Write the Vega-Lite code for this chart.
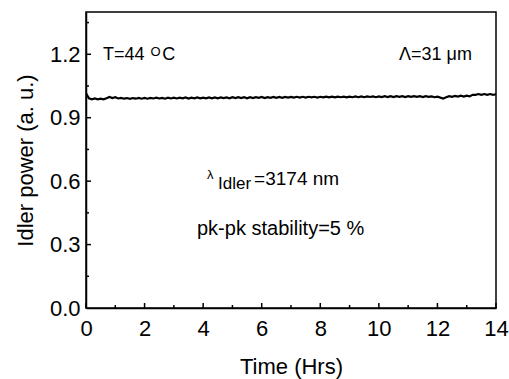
{
  "$schema": "https://vega.github.io/schema/vega-lite/v6.json",
  "width": 410,
  "height": 296,
  "autosize": {"type": "none"},
  "padding": {"left": 86, "top": 12, "right": 13, "bottom": 71},
  "background": "white",
  "config": {
    "font": "Liberation Sans",
    "view": {"stroke": "#000", "strokeWidth": 1.5},
    "axis": {
      "grid": false,
      "ticks": false,
      "domainColor": "#000",
      "domainWidth": 1.5,
      "labelColor": "#000",
      "titleColor": "#000",
      "labelFont": "Liberation Sans",
      "titleFont": "Liberation Sans",
      "labelFontSize": 22,
      "titleFontSize": 22,
      "titleFontWeight": "normal",
      "labelOverlap": false,
      "labelFlush": false
    }
  },
  "datasets": {
    "power": [
      {"t":0.0,"p":1.016},{"t":0.1,"p":0.992},{"t":0.2,"p":0.987},{"t":0.3,"p":0.991},{"t":0.4,"p":0.987},{"t":0.5,"p":0.990},{"t":0.6,"p":0.987},{"t":0.7,"p":0.992},{"t":0.8,"p":0.998},{"t":0.9,"p":0.993},
      {"t":1.0,"p":0.997},{"t":1.1,"p":0.991},{"t":1.2,"p":0.994},{"t":1.3,"p":0.990},{"t":1.4,"p":0.993},{"t":1.5,"p":0.989},{"t":1.6,"p":0.993},{"t":1.7,"p":0.990},{"t":1.8,"p":0.994},{"t":1.9,"p":0.990},
      {"t":2.0,"p":0.994},{"t":2.1,"p":0.990},{"t":2.2,"p":0.994},{"t":2.3,"p":0.991},{"t":2.4,"p":0.995},{"t":2.5,"p":0.991},{"t":2.6,"p":0.994},{"t":2.7,"p":0.990},{"t":2.8,"p":0.995},{"t":2.9,"p":0.991},
      {"t":3.0,"p":0.995},{"t":3.1,"p":0.991},{"t":3.2,"p":0.995},{"t":3.3,"p":0.992},{"t":3.4,"p":0.996},{"t":3.5,"p":0.991},{"t":3.6,"p":0.995},{"t":3.7,"p":0.992},{"t":3.8,"p":0.996},{"t":3.9,"p":0.992},
      {"t":4.0,"p":0.995},{"t":4.1,"p":0.992},{"t":4.2,"p":0.996},{"t":4.3,"p":0.992},{"t":4.4,"p":0.996},{"t":4.5,"p":0.992},{"t":4.6,"p":0.996},{"t":4.7,"p":0.993},{"t":4.8,"p":0.996},{"t":4.9,"p":0.992},
      {"t":5.0,"p":0.997},{"t":5.1,"p":0.993},{"t":5.2,"p":0.997},{"t":5.3,"p":0.993},{"t":5.4,"p":0.997},{"t":5.5,"p":0.992},{"t":5.6,"p":0.997},{"t":5.7,"p":0.993},{"t":5.8,"p":0.997},{"t":5.9,"p":0.994},
      {"t":6.0,"p":0.998},{"t":6.1,"p":0.993},{"t":6.2,"p":0.997},{"t":6.3,"p":0.994},{"t":6.4,"p":0.998},{"t":6.5,"p":0.994},{"t":6.6,"p":0.998},{"t":6.7,"p":0.994},{"t":6.8,"p":0.998},{"t":6.9,"p":0.995},
      {"t":7.0,"p":0.998},{"t":7.1,"p":0.995},{"t":7.2,"p":0.999},{"t":7.3,"p":0.995},{"t":7.4,"p":0.999},{"t":7.5,"p":0.995},{"t":7.6,"p":0.999},{"t":7.7,"p":0.996},{"t":7.8,"p":0.999},{"t":7.9,"p":0.995},
      {"t":8.0,"p":0.999},{"t":8.1,"p":0.996},{"t":8.2,"p":1.000},{"t":8.3,"p":0.996},{"t":8.4,"p":1.000},{"t":8.5,"p":0.996},{"t":8.6,"p":1.000},{"t":8.7,"p":0.997},{"t":8.8,"p":1.000},{"t":8.9,"p":0.996},
      {"t":9.0,"p":1.000},{"t":9.1,"p":0.997},{"t":9.2,"p":1.001},{"t":9.3,"p":0.997},{"t":9.4,"p":1.001},{"t":9.5,"p":0.997},{"t":9.6,"p":1.001},{"t":9.7,"p":0.998},{"t":9.8,"p":1.001},{"t":9.9,"p":0.997},
      {"t":10.0,"p":1.001},{"t":10.1,"p":0.998},{"t":10.2,"p":1.002},{"t":10.3,"p":0.998},{"t":10.4,"p":1.002},{"t":10.5,"p":0.998},{"t":10.6,"p":1.002},{"t":10.7,"p":0.999},{"t":10.8,"p":1.002},{"t":10.9,"p":0.998},
      {"t":11.0,"p":1.002},{"t":11.1,"p":0.999},{"t":11.2,"p":1.002},{"t":11.3,"p":0.999},{"t":11.4,"p":1.002},{"t":11.5,"p":0.998},{"t":11.6,"p":1.002},{"t":11.7,"p":0.999},{"t":11.8,"p":1.001},{"t":11.9,"p":0.997},
      {"t":12.0,"p":1.000},{"t":12.1,"p":0.995},{"t":12.2,"p":0.991},{"t":12.3,"p":0.997},{"t":12.4,"p":1.002},{"t":12.5,"p":0.999},{"t":12.6,"p":1.003},{"t":12.7,"p":1.000},{"t":12.8,"p":1.004},{"t":12.9,"p":1.000},
      {"t":13.0,"p":1.004},{"t":13.1,"p":1.001},{"t":13.2,"p":1.008},{"t":13.3,"p":1.008},{"t":13.4,"p":1.012},{"t":13.5,"p":1.008},{"t":13.6,"p":1.012},{"t":13.7,"p":1.008},{"t":13.8,"p":1.012},{"t":13.9,"p":1.008},
      {"t":14.0,"p":1.011}
    ],
    "xmajor": [{"t":0},{"t":2},{"t":4},{"t":6},{"t":8},{"t":10},{"t":12},{"t":14}],
    "xminor": [{"t":1},{"t":3},{"t":5},{"t":7},{"t":9},{"t":11},{"t":13}],
    "ymajor": [{"p":0.3},{"p":0.6},{"p":0.9},{"p":1.2}],
    "yminor": [{"p":0.15},{"p":0.45},{"p":0.75},{"p":1.05},{"p":1.35}]
  },
  "layer": [
    {
      "data": {"name": "power"},
      "mark": {"type": "line", "color": "#000", "strokeWidth": 2.2, "clip": true},
      "encoding": {
        "x": {"field": "t", "type": "quantitative", "scale": {"domain": [0, 14], "nice": false},
          "axis": {"orient": "bottom", "values": [0,2,4,6,8,10,12,14], "labelPadding": 10, "title": "Time (Hrs)", "titlePadding": 17}},
        "y": {"field": "p", "type": "quantitative", "scale": {"domain": [0, 1.4], "nice": false, "zero": true},
          "axis": {"orient": "left", "values": [0,0.3,0.6,0.9,1.2], "format": ".1f", "labelPadding": 6, "title": "Idler power (a. u.)", "titlePadding": 12}}
      }
    },
    {
      "data": {"name": "xmajor"},
      "mark": {"type": "rule", "color": "#000", "strokeWidth": 1.5, "y2Offset": -5},
      "encoding": {
        "x": {"field": "t", "type": "quantitative", "scale": {"domain": [0, 14], "nice": false}},
        "y": {"datum": 0, "type": "quantitative", "scale": {"domain": [0, 1.4], "nice": false}},
        "y2": {"datum": 0}
      }
    },
    {
      "data": {"name": "xminor"},
      "mark": {"type": "rule", "color": "#000", "strokeWidth": 1.5, "y2Offset": -3},
      "encoding": {
        "x": {"field": "t", "type": "quantitative"},
        "y": {"datum": 0, "type": "quantitative"},
        "y2": {"datum": 0}
      }
    },
    {
      "data": {"name": "ymajor"},
      "mark": {"type": "rule", "color": "#000", "strokeWidth": 1.5, "x2Offset": 5},
      "encoding": {
        "y": {"field": "p", "type": "quantitative"},
        "x": {"datum": 0, "type": "quantitative"},
        "x2": {"datum": 0}
      }
    },
    {
      "data": {"name": "yminor"},
      "mark": {"type": "rule", "color": "#000", "strokeWidth": 1.5, "x2Offset": 3},
      "encoding": {
        "y": {"field": "p", "type": "quantitative"},
        "x": {"datum": 0, "type": "quantitative"},
        "x2": {"datum": 0}
      }
    },
    {
      "data": {"values": [
        {"t": 0.58, "p": 1.171, "label": "T=44"},
        {"t": 2.6, "p": 1.171, "label": "C"}
      ]},
      "mark": {"type": "text", "align": "left", "baseline": "alphabetic", "fontSize": 18, "color": "#000", "font": "Liberation Sans"},
      "encoding": {
        "x": {"field": "t", "type": "quantitative"},
        "y": {"field": "p", "type": "quantitative"},
        "text": {"field": "label"}
      }
    },
    {
      "data": {"values": [
        {"t": 5.74, "p": 0.581, "label": "=3174 nm"}
      ]},
      "mark": {"type": "text", "align": "left", "baseline": "alphabetic", "fontSize": 19, "color": "#000", "font": "Liberation Sans"},
      "encoding": {
        "x": {"field": "t", "type": "quantitative"},
        "y": {"field": "p", "type": "quantitative"},
        "text": {"field": "label"}
      }
    },
    {
      "data": {"values": [
        {"t": 3.79, "p": 0.345, "label": "pk-pk stability=5 %"}
      ]},
      "mark": {"type": "text", "align": "left", "baseline": "alphabetic", "fontSize": 20, "color": "#000", "font": "Liberation Sans"},
      "encoding": {
        "x": {"field": "t", "type": "quantitative"},
        "y": {"field": "p", "type": "quantitative"},
        "text": {"field": "label"}
      }
    },
    {
      "data": {"values": [
        {"t": 13.18, "p": 1.171, "label": "Λ=31 μm"}
      ]},
      "mark": {"type": "text", "align": "right", "baseline": "alphabetic", "fontSize": 18, "color": "#000", "font": "Liberation Sans"},
      "encoding": {
        "x": {"field": "t", "type": "quantitative"},
        "y": {"field": "p", "type": "quantitative"},
        "text": {"field": "label"}
      }
    },
    {
      "data": {"values": [
        {"t": 2.2, "p": 1.19, "label": "O"},
        {"t": 4.13, "p": 0.609, "label": "λ"}
      ]},
      "mark": {"type": "text", "align": "left", "baseline": "alphabetic", "fontSize": 13, "color": "#000", "font": "Liberation Sans"},
      "encoding": {
        "x": {"field": "t", "type": "quantitative"},
        "y": {"field": "p", "type": "quantitative"},
        "text": {"field": "label"}
      }
    },
    {
      "data": {"values": [
        {"t": 4.51, "p": 0.562, "label": "Idler"}
      ]},
      "mark": {"type": "text", "align": "left", "baseline": "alphabetic", "fontSize": 17, "color": "#000", "font": "Liberation Sans"},
      "encoding": {
        "x": {"field": "t", "type": "quantitative"},
        "y": {"field": "p", "type": "quantitative"},
        "text": {"field": "label"}
      }
    }
  ]
}
